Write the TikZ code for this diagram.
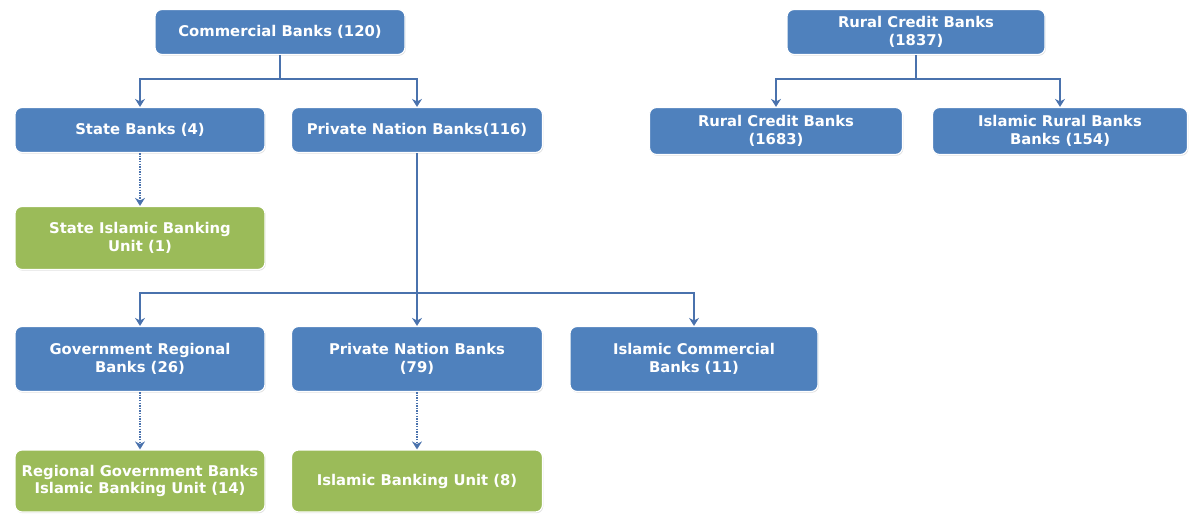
\documentclass[tikz,border=0pt]{standalone}
\usepackage{fontspec}
\setmainfont{DejaVu Sans}
\usetikzlibrary{positioning,arrows.meta,shadows}
\definecolor{bankblue}{HTML}{4F81BD}
\definecolor{unitgreen}{HTML}{9BBB59}
\definecolor{linkblue}{HTML}{4A72AD}

\begin{document}
\begin{tikzpicture}[x=1pt, y=-1pt, >={Stealth[length=8pt,width=10pt]},
  bankbox/.style={draw=white, line width=1.2pt, fill=bankblue, rounded corners=7pt,
    text=white, font=\bfseries\fontsize{14.8}{17.5}\selectfont, align=center,
    minimum width=250pt, minimum height=45pt, inner sep=2pt,
    drop shadow={shadow xshift=0.8pt, shadow yshift=-1.2pt, opacity=0.25}},
  unitbox/.style={bankbox, fill=unitgreen},
  link/.style={draw=linkblue, line width=2.9pt, ->},
  dotlink/.style={draw=linkblue, line width=2.4pt, dash pattern=on 1.4pt off 1.2pt, ->}]
  \useasboundingbox (0,0) rectangle (1190,525);

  % Commercial banks
  \node[bankbox] (comm) at (280,32) {Commercial Banks (120)};
  \node[bankbox] (state) at (140,130) {State Banks (4)};
  \node[bankbox, minimum width=251pt] (priv) at (417,130) {Private Nation Banks(116)};
  \node[unitbox, minimum height=63pt] (stateisl) at (140,238) {State Islamic Banking\\Unit (1)};

  \coordinate (cbr) at (280,79);
  \draw[link] (comm.south) -- (cbr) -| (state.north);
  \draw[link] (cbr) -| (priv.north);
  \draw[dotlink] (state.south) -- (stateisl.north);

  % Regional level
  \node[bankbox, minimum height=65pt] (gov) at (140,359) {Government Regional\\Banks (26)};
  \node[bankbox, minimum width=251pt, minimum height=65pt] (privb) at (417,359) {Private Nation Banks\\(79)};
  \node[bankbox, minimum width=248pt, minimum height=65pt] (islcom) at (694,359) {Islamic Commercial\\Banks (11)};
  \node[unitbox, minimum height=62pt] (govisl) at (140,481) {Regional Government Banks\\Islamic Banking Unit (14)};
  \node[unitbox, minimum width=251pt, minimum height=62pt] (bankunit) at (417,481) {Islamic Banking Unit (8)};

  \coordinate (pbr) at (417,293);
  \draw[link] (priv.south) -- (privb.north);
  \draw[link] (pbr) -| (gov.north);
  \draw[link] (pbr) -| (islcom.north);
  \draw[dotlink] (gov.south) -- (govisl.north);
  \draw[dotlink] (privb.south) -- (bankunit.north);

  % Rural credit banks
  \node[bankbox, minimum width=258pt] (rural) at (916,32) {Rural Credit Banks\\(1837)};
  \node[bankbox, minimum width=253pt, minimum height=47pt] (rcb) at (776,131) {Rural Credit Banks\\(1683)};
  \node[bankbox, minimum width=255pt, minimum height=47pt] (irb) at (1060,131) {Islamic Rural Banks\\Banks (154)};

  \coordinate (rbr) at (916,79);
  \draw[link] (rural.south) -- (rbr) -| (rcb.north);
  \draw[link] (rbr) -| (irb.north);
\end{tikzpicture}
\end{document}
